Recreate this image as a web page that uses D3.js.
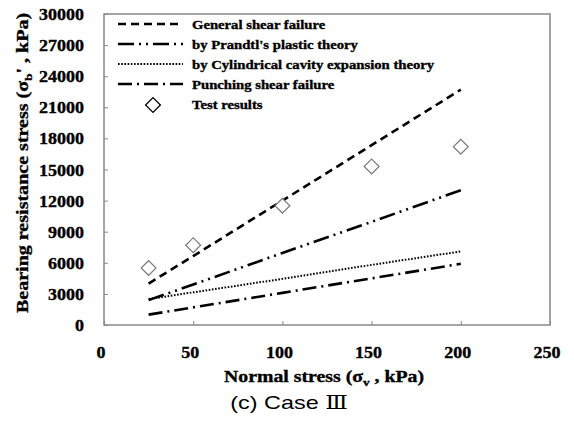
<!DOCTYPE html>
<html>
<head>
<meta charset="utf-8">
<script src="https://cdn.jsdelivr.net/npm/d3@7/dist/d3.min.js"></script>
<style>
  body { margin: 0; background: #fff; }
  svg text { font-family: "Liberation Serif", "Times New Roman", serif; font-weight: bold; fill: #000; stroke: #000; stroke-width: 0.35; }
  svg text.caption { stroke: none; }
</style>
</head>
<body>
<svg id="chart" width="574" height="427"></svg>
<script>
// data
const stressX = [25, 50, 100, 150, 200];
const generalShear = [4000, 6650, 12000, 17350, 22700];
const prandtl = [2400, 3900, 6950, 9950, 13000];
const cylindrical = [2500, 3150, 4450, 5800, 7100];
const punching = [1000, 1700, 3100, 4500, 5900];
const testResults = [5500, 7700, 11500, 15300, 17200];
const xTicks = [0, 50, 100, 150, 200, 250];
const yTicks = [0, 3000, 6000, 9000, 12000, 15000, 18000, 21000, 24000, 27000, 30000];

const seriesInfo = [
  { name: 'General shear failure', values: generalShear, dash: '8,5', width: 2.6 },
  { name: "by Prandtl's plastic theory", values: prandtl, dash: '16,5,2,5,2,5', width: 2.6 },
  { name: 'by Cylindrical cavity expansion theory', values: cylindrical, dash: '1.6,1.6', width: 2 },
  { name: 'Punching shear failure', values: punching, dash: '14,5,2,5', width: 2.6 },
];

const svg = d3.select('#chart');
const plotLeft = 104, plotRight = 550, plotTop = 14, plotBottom = 325;

const x = d3.scaleLinear().domain([0, 250]).range([plotLeft, plotRight]);
const y = d3.scaleLinear().domain([0, 30000]).range([plotBottom, plotTop]);

// the source image is a bit wider than tall, so text gets a horizontal stretch
const stretched = (parent, tx, ty, sx, rot) =>
  parent.append('text')
    .attr('transform', `translate(${tx},${ty})${rot ? ` rotate(${rot})` : ''} scale(${sx},1)`);

// frame
svg.append('rect')
  .attr('x', plotLeft).attr('y', plotTop)
  .attr('width', plotRight - plotLeft).attr('height', plotBottom - plotTop)
  .attr('fill', 'none').attr('stroke', '#888').attr('stroke-width', 1.5);

// y axis
const yAxis = svg.append('g')
  .attr('transform', `translate(${plotLeft},0)`)
  .call(d3.axisRight(y).tickValues(yTicks).tickSize(4).tickFormat(''));
yAxis.select('.domain').remove();
yAxis.selectAll('line').attr('stroke', '#888');
const yLabels = svg.append('g');
yTicks.forEach((d) => {
  stretched(yLabels, 84, y(d) + 6, 1.06)
    .attr('text-anchor', 'end')
    .attr('font-size', 17)
    .text(d);
});

// x axis
const xAxis = svg.append('g')
  .attr('transform', `translate(0,${plotBottom})`)
  .call(d3.axisTop(x).tickValues(xTicks).tickSize(4).tickFormat(''));
xAxis.select('.domain').remove();
xAxis.selectAll('line').attr('stroke', '#888');
const xLabels = svg.append('g');
xTicks.forEach((d) => {
  stretched(xLabels, x(d) - 3, 358, 1.06)
    .attr('text-anchor', 'middle')
    .attr('font-size', 17)
    .text(d);
});

// axis titles
const xTitle = stretched(svg, 324, 382, 1.2)
  .attr('text-anchor', 'middle')
  .attr('font-size', 16.5);
xTitle.append('tspan').text('Normal stress (σ');
xTitle.append('tspan').attr('font-size', 11).attr('dy', 4).text('v');
xTitle.append('tspan').attr('dy', -4).text(' , kPa)');

const yTitle = stretched(svg, 28, 163, 1.18, -90)
  .attr('text-anchor', 'middle')
  .attr('font-size', 17);
yTitle.append('tspan').text('Bearing resistance stress (σ');
yTitle.append('tspan').attr('font-size', 11).attr('dy', 4).text('b');
yTitle.append('tspan').attr('dy', -4).text("' , kPa)");

// lines
const line = d3.line()
  .x((d, i) => x(stressX[i]))
  .y((d) => y(d));

seriesInfo.forEach((s) => {
  svg.append('path')
    .datum(s.values)
    .attr('d', line)
    .attr('fill', 'none')
    .attr('stroke', '#000')
    .attr('stroke-width', s.width)
    .attr('stroke-dasharray', s.dash);
});

// test results
const diamond = d3.symbol().type(d3.symbolSquare).size(110);
svg.append('g').selectAll('path')
  .data(testResults)
  .enter()
  .append('path')
  .attr('d', diamond)
  .attr('transform', (d, i) => `translate(${x(stressX[i])},${y(d)}) rotate(45)`)
  .attr('fill', '#fff')
  .attr('stroke', '#777')
  .attr('stroke-width', 1.2);

// legend
const legend = svg.append('g');
seriesInfo.forEach((s, i) => {
  const ly = 24 + i * 20;
  legend.append('line')
    .attr('x1', 118).attr('x2', 183)
    .attr('y1', ly).attr('y2', ly)
    .attr('stroke', '#000')
    .attr('stroke-width', s.width)
    .attr('stroke-dasharray', s.dash);
  stretched(legend, 192, ly + 4.5, 1.13)
    .attr('font-size', 13)
    .text(s.name);
});
legend.append('path')
  .attr('d', diamond)
  .attr('transform', 'translate(153,105) rotate(45)')
  .attr('fill', '#fff')
  .attr('stroke', '#000')
  .attr('stroke-width', 1.3);
stretched(legend, 192, 108.5, 1.13)
  .attr('font-size', 13)
  .text('Test results');

// caption
const caption = stretched(svg, 289, 409, 1.3)
  .attr('class', 'caption')
  .attr('text-anchor', 'middle')
  .attr('font-size', 18)
  .style('font-family', '"Liberation Sans", Arial, sans-serif')
  .style('font-weight', 'normal');
caption.append('tspan').text('(c) Case ');
caption.append('tspan').style('font-family', '"DejaVu Serif", serif').text('Ⅲ');
</script>
</body>
</html>
